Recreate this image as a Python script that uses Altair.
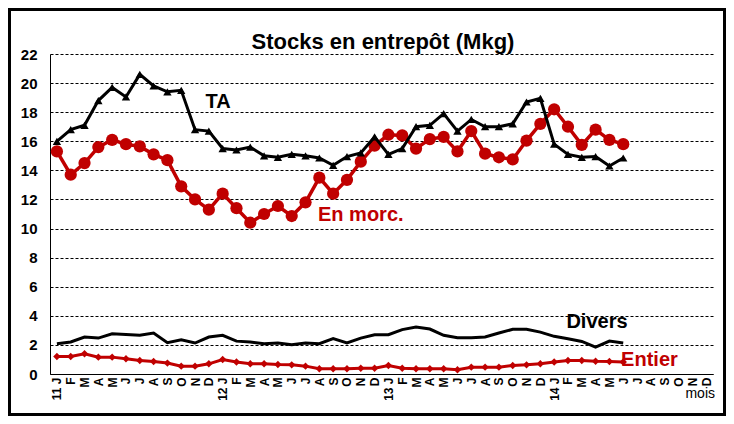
import altair as alt
import pandas as pd

month_labels = ["11 J", "F", "M", "A", "M", "J", "J", "A", "S", "O", "N", "D",
                "12 J", "F", "M", "A", "M", "J", "J", "A", "S", "O", "N", "D",
                "13 J", "F", "M", "A", "M", "J", "J", "A", "S", "O", "N", "D",
                "14 J", "F", "M", "A", "M", "J", "J", "A", "S", "O", "N", "D"]

ta = [16.0, 16.8, 17.1, 18.8, 19.7, 19.05, 20.6, 19.8, 19.4, 19.5, 16.8, 16.7,
      15.5, 15.4, 15.6, 15.0, 14.9, 15.1, 15.0, 14.85, 14.35, 14.95, 15.2, 16.3,
      15.1, 15.5, 17.0, 17.1, 17.9, 16.7, 17.5, 17.0, 17.0, 17.2, 18.7, 18.95,
      15.8, 15.1, 14.9, 14.95, 14.3, 14.85]

morc = [15.3, 13.7, 14.5, 15.6, 16.1, 15.8, 15.65, 15.1, 14.7, 12.9, 12.0, 11.3,
        12.4, 11.4, 10.4, 11.0, 11.55, 10.86, 11.8, 13.5, 12.4, 13.35, 14.6, 15.7,
        16.45, 16.4, 15.5, 16.15, 16.3, 15.3, 16.7, 15.15, 14.9, 14.75, 16.05, 17.2,
        18.2, 17.0, 15.75, 16.8, 16.1, 15.8]

divers = [2.08, 2.2, 2.54, 2.47, 2.77, 2.72, 2.66, 2.82, 2.15, 2.36, 2.13, 2.54,
          2.66, 2.26, 2.2, 2.08, 2.13, 2.01, 2.13, 2.08, 2.43, 2.13, 2.47, 2.7,
          2.7, 3.05, 3.23, 3.09, 2.66, 2.5, 2.5, 2.54, 2.82, 3.07, 3.07, 2.88,
          2.59, 2.43, 2.24, 1.85, 2.26, 2.13]

entier = [1.2, 1.2, 1.39, 1.16, 1.16, 1.05, 0.93, 0.86, 0.75, 0.54, 0.54, 0.7,
          1.0, 0.82, 0.7, 0.7, 0.65, 0.63, 0.54, 0.36, 0.36, 0.36, 0.4, 0.4,
          0.59, 0.4, 0.36, 0.36, 0.36, 0.29, 0.47, 0.47, 0.47, 0.59, 0.63, 0.7,
          0.82, 0.93, 0.93, 0.88, 0.86, 0.82]

series_names = ["TA", "En morc.", "Divers", "Entier"]

RED = "#C00000"
FONT = "Liberation Sans"

def frame(vals):
    return pd.DataFrame({"i": list(range(len(vals))), "v": vals})

label_arr = "[" + ",".join("'" + s + "'" for s in month_labels) + "]"

x_enc = alt.X("i:Q",
              scale=alt.Scale(domain=[-0.5, 47.5], nice=False, zero=False),
              axis=alt.Axis(values=list(range(48)), labelExpr=label_arr + "[datum.value]",
                            labelAngle=-90, labelAlign="right", labelBaseline="middle",
                            labelPadding=3, grid=False, labelFontSize=12, title=None,
                            tickCount=48))
y_enc = alt.Y("v:Q",
              scale=alt.Scale(domain=[0, 22], nice=False),
              axis=alt.Axis(values=list(range(0, 23, 2)), grid=True, tickCount=12,
                            gridDash=[3, 2], gridColor="black", gridWidth=1, gridOpacity=1,
                            labelFontSize=15, labelPadding=13, title=None))

base_ta = alt.Chart(frame(ta))
base_morc = alt.Chart(frame(morc))
base_div = alt.Chart(frame(divers))
base_ent = alt.Chart(frame(entier))

l_div = base_div.mark_line(color="black", strokeWidth=3).encode(x=x_enc, y=y_enc)
l_ent = base_ent.mark_line(color=RED, strokeWidth=3).encode(x=x_enc, y=y_enc)
p_ent = base_ent.mark_point(shape="diamond", filled=True, color=RED, size=55, opacity=1).encode(x=x_enc, y=y_enc)
l_morc = base_morc.mark_line(color=RED, strokeWidth=3.5).encode(x=x_enc, y=y_enc)
p_morc = base_morc.mark_circle(color=RED, size=150, opacity=1).encode(x=x_enc, y=y_enc)
l_ta = base_ta.mark_line(color="black", strokeWidth=3).encode(x=x_enc, y=y_enc)
p_ta = base_ta.mark_point(shape="triangle-up", filled=True, color="black", size=70, opacity=1).encode(x=x_enc, y=y_enc)

def label(text, xi, yv, color, size=20):
    return alt.Chart(pd.DataFrame({"i": [xi], "v": [yv]})).mark_text(
        text=text, font=FONT, fontWeight="bold", fontSize=size, color=color,
        align="center", baseline="middle").encode(x=x_enc, y=y_enc)

t_ta = label(series_names[0], 11.67, 18.7, "black")
t_morc = label(series_names[1], 22.0, 10.95, RED)
t_div = label(series_names[2], 39.1, 3.55, "black")
t_ent = label(series_names[3], 42.9, 0.93, RED)

mois = alt.Chart(pd.DataFrame({"a": [0]})).mark_text(
    text="mois", font=FONT, fontSize=14, color="black", align="right",
    baseline="alphabetic").encode(x=alt.value(665), y=alt.value(344))

title = alt.Chart(pd.DataFrame({"a": [0]})).mark_text(
    text="Stocks en entrepôt (Mkg)", font=FONT, fontWeight="bold", fontSize=22,
    color="black", align="center", baseline="alphabetic").encode(
    x=alt.value(333), y=alt.value(-5))

border = alt.Chart(pd.DataFrame({"a": [0]})).mark_rect(
    fill=None, stroke="black", strokeWidth=3).encode(
    x=alt.value(-40.5), x2=alt.value(674.5), y=alt.value(-44.5), y2=alt.value(360.5))

chart = alt.layer(
    l_div, l_ent, p_ent, l_morc, p_morc, l_ta, p_ta,
    t_ta, t_morc, t_div, t_ent, mois, title, border
).properties(
    width=663, height=320,
    padding={"left": 42, "top": 46, "right": 13, "bottom": 42},
    autosize=alt.AutoSizeParams(type="none"),
    background="white"
).configure_view(stroke=None).configure_axis(
    labelOverlap=False, labelBound=False, labelFlush=False, ticks=False,
    domainColor="black", domainWidth=1, labelFont=FONT, labelFontWeight="bold",
    labelColor="black"
)

chart.save("out.html", embed_options={"renderer": "svg", "actions": False})
